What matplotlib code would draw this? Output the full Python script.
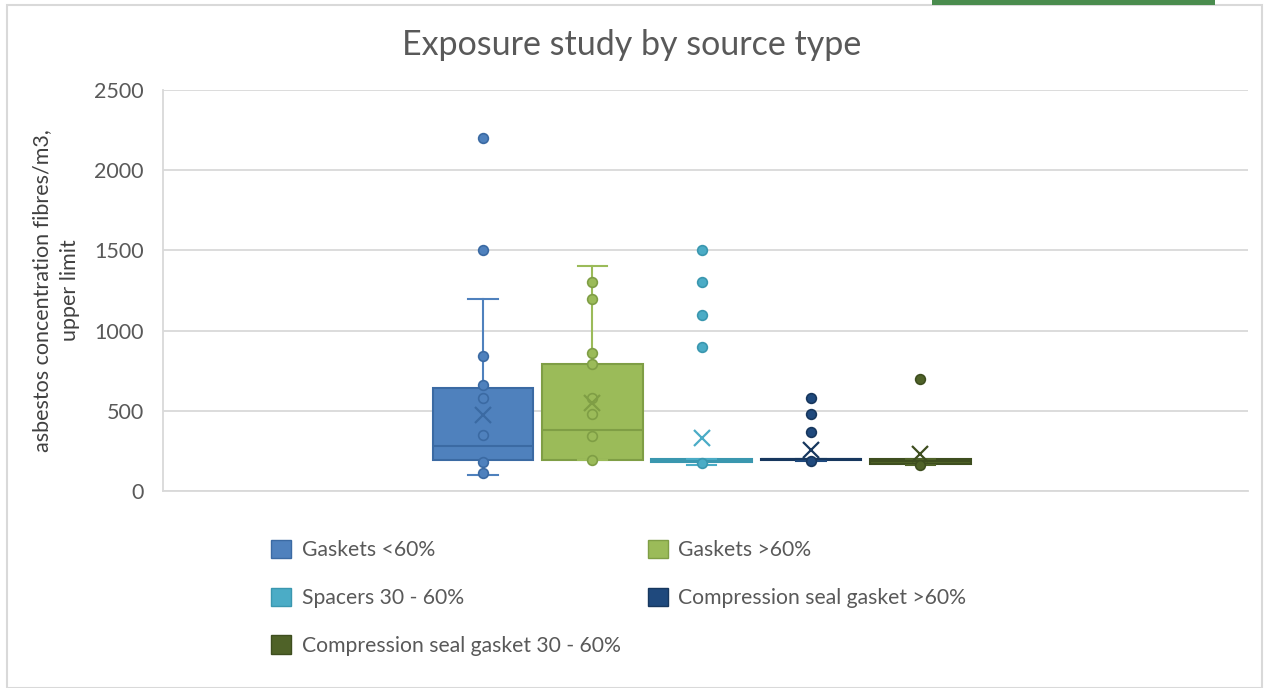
import matplotlib.pyplot as plt
from matplotlib.patches import Patch, Rectangle

plt.rcParams['font.family'] = ['Lato', 'DejaVu Sans']

names = ['Gaskets <60%', 'Gaskets >60%', 'Spacers 30 - 60%',
         'Compression seal gasket >60%', 'Compression seal gasket 30 - 60%']
fills = ['#4F81BD', '#9BBB59', '#4BACC6', '#1F497D', '#4F6228']
edges = ['#3B6AA3', '#7F9E45', '#3A97AF', '#17375E', '#3E4E1F']

# box statistics
whislo = [100, 195, 160, 190, 160]
q1 = [195, 195, 178, 195, 170]
med = [280, 380, 190, 200, 185]
q3 = [640, 790, 200, 200, 200]
whishi = [1200, 1400, 200, 200, 200]
means = [475, 550, 330, 255, 230]
inner = [[110, 180, 350, 580, 660, 840],
         [195, 340, 480, 580, 790, 860, 1200, 1300],
         [175],
         [190],
         [160]]
outliers = [[1500, 2200], [], [900, 1100, 1300, 1500], [365, 480, 580], [700]]

fig = plt.figure(figsize=(12.64, 6.88), dpi=100)
ax = fig.add_axes([0.129, 0.2863, 0.8584, 0.5829])

pos = list(range(1, len(names) + 1))
for i, p in enumerate(pos):
    st = [dict(med=med[i], q1=q1[i], q3=q3[i], whislo=whislo[i],
               whishi=whishi[i], mean=means[i], fliers=[])]
    ax.bxp(st, positions=[p], widths=0.92, patch_artist=True,
           showfliers=False, showmeans=False, capwidths=0.27,
           boxprops=dict(facecolor=fills[i], edgecolor=edges[i], linewidth=1.5),
           medianprops=dict(color=edges[i], linewidth=1.5),
           whiskerprops=dict(color=fills[i], linewidth=1.5),
           capprops=dict(color=fills[i], linewidth=1.5))
    pts = inner[i] + outliers[i]
    ax.plot([p] * len(pts), pts, 'o', ms=7, mfc=fills[i], mec=edges[i],
            mew=1.2, zorder=4)
    xc = fills[i] if i == 2 else edges[i]
    ax.plot([p], [means[i]], 'x', ms=12, mew=1.6, color=xc, zorder=5)

ax.set_xlim(-1.93, 8.0)
ax.set_ylim(0, 2500)
ax.set_yticks(range(0, 2501, 500))
ax.set_xticks([])
ax.tick_params(axis='y', length=0, labelsize=15.5, labelcolor='#595959', pad=14)
ax.grid(axis='y', color='#D9D9D9', linewidth=1.3)
ax.set_axisbelow(True)
for s in ['top', 'right']:
    ax.spines[s].set_visible(False)
for s in ['left', 'bottom']:
    ax.spines[s].set_color('#D9D9D9')
    ax.spines[s].set_linewidth(1.3)

ax.set_ylabel('asbestos concentration fibres/m3,\nupper limit', fontsize=15.5,
              color='#404040', labelpad=10, linespacing=1.5)
fig.text(0.5, 0.934, 'Exposure study by source type', ha='center', va='center',
         fontsize=24.5, color='#595959')

order = [0, 2, 4, 1, 3]
handles = [Patch(facecolor=fills[k], edgecolor=edges[k]) for k in order]
fig.legend(handles, [names[k] for k in order], ncol=2, loc='upper left',
           bbox_to_anchor=(0.1995, 0.243), frameon=False, fontsize=15.2,
           labelcolor='#595959', handlelength=0.95, handleheight=0.95,
           handletextpad=0.5, labelspacing=1.3, columnspacing=1.28)

# chart frame and top bar
fig.patches.append(Rectangle((7 / 1264, 0), 1255 / 1264, 683 / 688,
                             transform=fig.transFigure, fill=False,
                             edgecolor='#D9D9D9', linewidth=1.5))
fig.patches.append(Rectangle((932 / 1264, 683 / 688), 283 / 1264, 5 / 688,
                             transform=fig.transFigure, facecolor='#4A8C4E',
                             edgecolor='none'))

fig.savefig('out.png', dpi=100)
